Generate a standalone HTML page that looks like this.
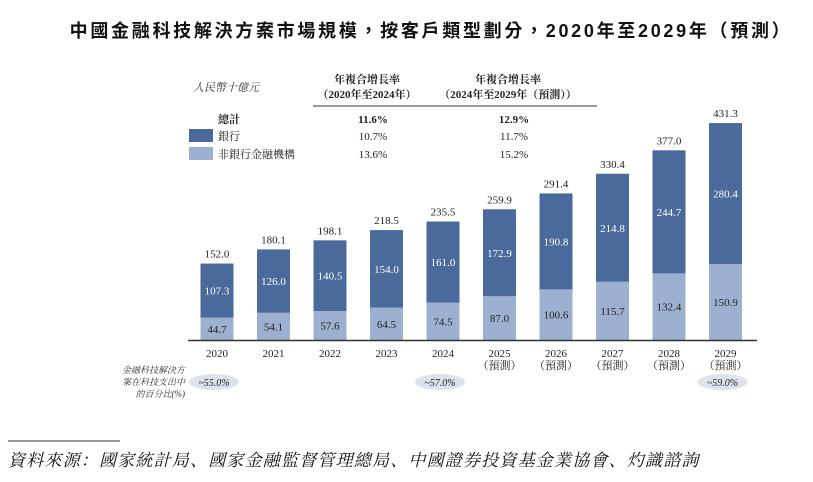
<!DOCTYPE html>
<html><head><meta charset="utf-8"><style>
html,body{margin:0;padding:0;background:#fff;}
body{width:813px;height:477px;overflow:hidden;position:relative;font-family:"Liberation Serif","Noto Serif CJK SC","Noto Sans CJK TC",serif;}
</style></head><body>
<svg width="813" height="477" xmlns="http://www.w3.org/2000/svg" font-family="'Liberation Serif','Noto Serif CJK SC','Noto Sans CJK TC',serif">
<text x="431" y="37" text-anchor="middle" font-size="18" font-weight="bold" letter-spacing="2.7" fill="#111" font-family="'Liberation Sans','Noto Sans CJK TC',sans-serif">中國金融科技解決方案市場規模，按客戶類型劃分，2020年至2029年（預測）</text>
<text x="193" y="91" font-size="11" font-style="italic" fill="#333">人民幣十億元</text>
<g font-size="11" fill="#222" text-anchor="middle">
<text x="367" y="83" font-weight="bold">年複合增長率</text>
<text x="367" y="98" font-weight="bold">（2020年至2024年）</text>
<text x="508" y="83" font-weight="bold">年複合增長率</text>
<text x="508" y="98" font-weight="bold">（2024年至2029年（預測））</text>
</g>
<line x1="313" y1="106" x2="597" y2="106" stroke="#333" stroke-width="1"/>
<g font-size="11" fill="#222">
<text x="218" y="123" font-weight="bold">總計</text>
<rect x="189" y="129" width="24" height="13" fill="#4a6a9b"/>
<text x="218" y="140">銀行</text>
<rect x="189" y="147" width="24" height="13" fill="#9cb0d0"/>
<text x="218" y="158">非銀行金融機構</text>
<g text-anchor="middle">
<text x="373" y="123" font-weight="bold">11.6%</text>
<text x="373" y="140">10.7%</text>
<text x="373" y="158">13.6%</text>
<text x="514" y="123" font-weight="bold">12.9%</text>
<text x="514" y="140">11.7%</text>
<text x="514" y="158">15.2%</text>
</g></g>
<g id="bars"></g>
<line x1="188" y1="340.5" x2="757" y2="340.5" stroke="#333" stroke-width="1.5"/>
<g font-size="9" font-style="italic" fill="#333" text-anchor="end">
<text x="185" y="373">金融科技解決方</text>
<text x="185" y="385">案在科技支出中</text>
<text x="185" y="397">的百分比(%)</text>
</g>
<g id="pills"></g>
<line x1="8" y1="441" x2="120" y2="441" stroke="#333" stroke-width="1"/>
<text x="8" y="466" font-size="17" font-style="italic" letter-spacing="1.2" fill="#111">資料來源：國家統計局、國家金融監督管理總局、中國證券投資基金業協會、灼識諮詢</text>
</svg>
<script>
const years=["2020","2021","2022","2023","2024","2025","2026","2027","2028","2029"];
const forecast=[false,false,false,false,false,true,true,true,true,true];
const bank=[107.3,126.0,140.5,154.0,161.0,172.9,190.8,214.8,244.7,280.4];
const nonbank=[44.7,54.1,57.6,64.5,74.5,87.0,100.6,115.7,132.4,150.9];
const totals=[152.0,180.1,198.1,218.5,235.5,259.9,291.4,330.4,377.0,431.3];
const shareIdx=[0,4,9];
const shareVals=["~55.0%","~57.0%","~59.0%"];
const NS="http://www.w3.org/2000/svg";
const base=340, k=0.503, x0=217, step=56.5, bw=33;
const xs=i=>x0+i*step, ys=v=>base-v*k;
const g=document.getElementById('bars');
function mk(t,a,txt){const e=document.createElementNS(NS,t);for(const n in a)e.setAttribute(n,a[n]);if(txt!=null)e.textContent=txt;return e;}
years.forEach((y,i)=>{
  const cx=xs(i);
  const r1=mk('rect',{x:cx-bw/2,y:ys(nonbank[i]),width:bw,height:nonbank[i]*k,fill:'#9cb0d0'});
  
  
  g.appendChild(r1);
  const r2=mk('rect',{x:cx-bw/2,y:ys(nonbank[i]+bank[i]),width:bw,height:bank[i]*k,fill:'#4a6a9b'});
  
  
  g.appendChild(r2);
  const t1=mk('text',{x:cx,y:ys(nonbank[i]/2)+4,'text-anchor':'middle','font-size':11,fill:'#222'},nonbank[i].toFixed(1));
  
  
  g.appendChild(t1);
  const t2=mk('text',{x:cx,y:ys(nonbank[i]+bank[i]/2)+4,'text-anchor':'middle','font-size':11,fill:'#fff'},bank[i].toFixed(1));
  
  
  g.appendChild(t2);
  const t3=mk('text',{x:cx,y:ys(totals[i])-6,'text-anchor':'middle','font-size':11,fill:'#222'},totals[i].toFixed(1));
  
  
  g.appendChild(t3);
  const t4=mk('text',{x:cx,y:357,'text-anchor':'middle','font-size':11,fill:'#222'},y);
  
  
  g.appendChild(t4);
  if(forecast[i]){
    const t5=mk('text',{x:cx,y:369,'text-anchor':'middle','font-size':11,fill:'#222'},'（預測）');
    
    
    g.appendChild(t5);
  }
});
const p=document.getElementById('pills');
shareIdx.forEach((idx,j)=>{
  const cx=xs(idx)-3;
  const el=mk('ellipse',{cx:cx,cy:382,rx:25,ry:8,fill:'#dde3ee'});
  
  
  p.appendChild(el);
  const t=mk('text',{x:cx,y:386,'text-anchor':'middle','font-size':10,'font-style':'italic',fill:'#222'},shareVals[j]);
  
  
  p.appendChild(t);
});
</script>
</body></html>
